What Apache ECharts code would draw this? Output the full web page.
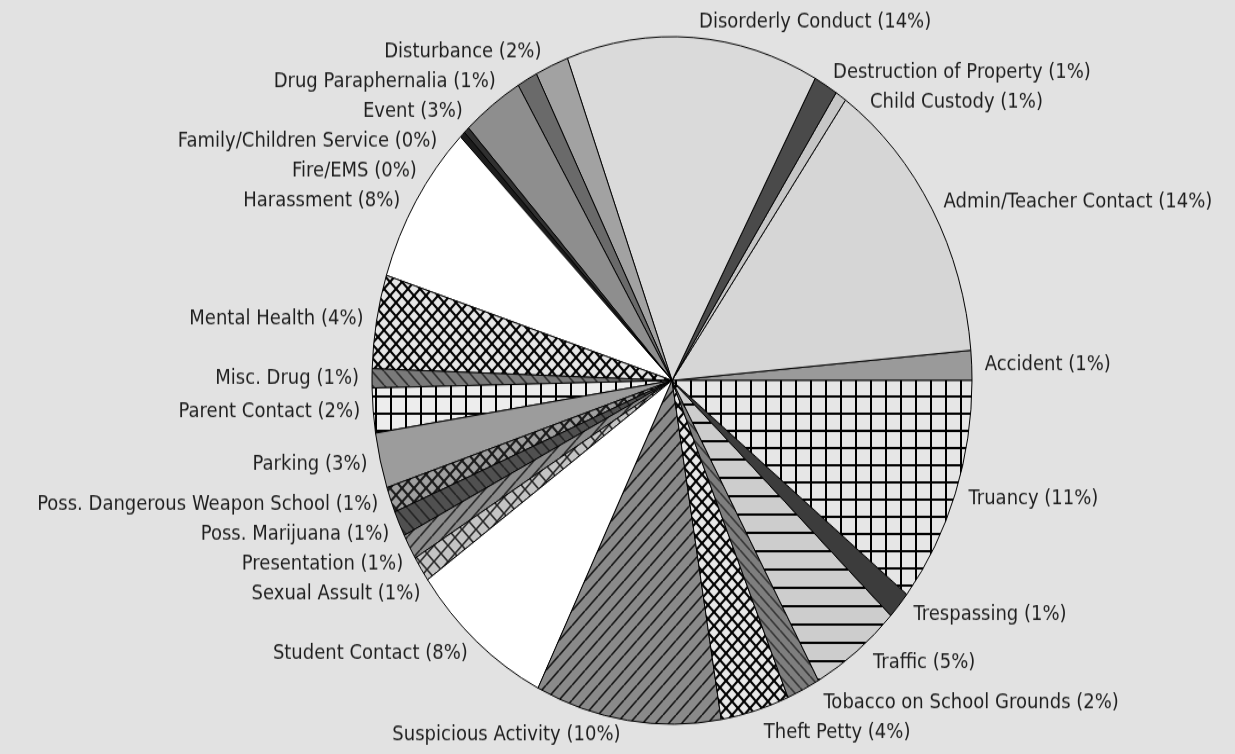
<!DOCTYPE html>
<html>
<head>
<meta charset="utf-8">
<script src="https://cdn.jsdelivr.net/npm/echarts@6/dist/echarts.min.js"></script>
<style>
html,body{margin:0;padding:0;background:#e2e2e2;overflow:hidden;}
#wrap{width:1235px;height:754px;overflow:hidden;position:relative;}
#chart{width:1235px;height:658px;transform:scaleY(1.1459);transform-origin:0 0;}
</style>
</head>
<body>
<div id="wrap"><div id="chart"></div></div>
<script>
// ---- data ----
const categories = [
  "Accident", "Admin/Teacher Contact", "Child Custody", "Destruction of Property",
  "Disorderly Conduct", "Disturbance", "Drug Paraphernalia", "Event",
  "Family/Children Service", "Fire/EMS", "Harassment", "Mental Health",
  "Misc. Drug", "Parent Contact", "Parking", "Poss. Dangerous Weapon School",
  "Poss. Marijuana", "Presentation", "Sexual Assult", "Student Contact",
  "Suspicious Activity", "Theft Petty", "Tobacco on School Grounds", "Traffic",
  "Trespassing", "Truancy"
];
const incidentCounts = [
  14, 138, 6, 13,
  136, 18, 11, 33,
  3, 3, 76, 44,
  9, 21, 26, 12,
  12, 12, 12, 78,
  100, 37, 18, 49,
  13, 107
];

// ---- styles (fills) ----
function pattern(bg, kind, fg, size, lw) {
  const c = document.createElement('canvas');
  c.width = size; c.height = size;
  const g = c.getContext('2d');
  g.fillStyle = bg; g.fillRect(0, 0, size, size);
  g.strokeStyle = fg; g.fillStyle = fg; g.lineWidth = lw;
  const s = size;
  function fwd() { g.beginPath(); for (let k = -1; k <= 1; k++) { g.moveTo(k * s, s); g.lineTo(k * s + s, 0); } g.stroke(); }
  function back() { g.beginPath(); for (let k = -1; k <= 1; k++) { g.moveTo(k * s, 0); g.lineTo(k * s + s, s); } g.stroke(); }
  if (kind === 'fwd') fwd();
  else if (kind === 'back') back();
  else if (kind === 'cross') { fwd(); back(); }
  else if (kind === 'grid') { g.fillRect(0, 0, lw, s); g.fillRect(0, 0, s, lw); }
  else if (kind === 'horiz') { g.fillRect(0, 0, s, lw); }
  return { image: c, repeat: 'repeat' };
}
const fills = [
  '#9a9a9a',                                   // Accident
  '#d6d6d6',                                   // Admin/Teacher Contact
  '#c6c6c6',                                   // Child Custody
  '#4a4a4a',                                   // Destruction of Property
  '#dadada',                                   // Disorderly Conduct
  '#a2a2a2',                                   // Disturbance
  '#6a6a6a',                                   // Drug Paraphernalia
  '#8e8e8e',                                   // Event
  '#303030',                                   // Family/Children Service
  '#1c1c1c',                                   // Fire/EMS
  '#ffffff',                                   // Harassment
  pattern('#e6e6e6', 'cross', '#000', 12, 2),  // Mental Health
  pattern('#7a7a7a', 'back', '#2a2a2a', 12, 1.5), // Misc. Drug
  pattern('#ededed', 'grid', '#000', 15, 2),   // Parent Contact
  '#9c9c9c',                                   // Parking
  pattern('#a0a0a0', 'cross', '#1a1a1a', 12, 2), // Poss. Dangerous Weapon
  pattern('#505050', 'back', '#222', 12, 1.5), // Poss. Marijuana
  pattern('#8c8c8c', 'fwd', '#222', 12, 1.5),  // Presentation
  pattern('#c4c4c4', 'cross', '#222', 14, 1.5),// Sexual Assult
  '#ffffff',                                   // Student Contact
  pattern('#8a8a8a', 'fwd', '#111', 13, 1.5),  // Suspicious Activity
  pattern('#e8e8e8', 'cross', '#000', 12, 2),  // Theft Petty
  pattern('#7e7e7e', 'back', '#333', 10, 1.5), // Tobacco
  pattern('#cdcdcd', 'horiz', '#000', 16, 2),  // Traffic
  '#3c3c3c',                                   // Trespassing
  pattern('#e6e6e6', 'grid', '#000', 15, 2)    // Truancy
];

const chart = echarts.init(document.getElementById('chart'), null, { renderer: 'canvas' });
chart.setOption({
  backgroundColor: '#e2e2e2',
  animation: false,
  series: [{
    type: 'pie',
    center: [672, 332],
    radius: 300,
    startAngle: 0,
    clockwise: false,
    avoidLabelOverlap: true,
    itemStyle: { borderColor: '#000', borderWidth: 1 },
    emphasis: { disabled: true },
    label: {
      show: true,
      position: 'outside',
      formatter: p => p.name + ' (' + Math.round(p.percent) + '%)',
      color: '#1e1e1e',
      fontFamily: 'DejaVu Sans',
      fontSize: 18,
      lineHeight: 24,
      overflow: 'none',
      bleedMargin: 0,
      distanceToLabelLine: 5
    },
    labelLine: { show: false, length: 13, length2: 0 },
    data: categories.map((name, i) => ({ name, value: incidentCounts[i], itemStyle: { color: fills[i] } }))
  }]
});
</script>
</body>
</html>
